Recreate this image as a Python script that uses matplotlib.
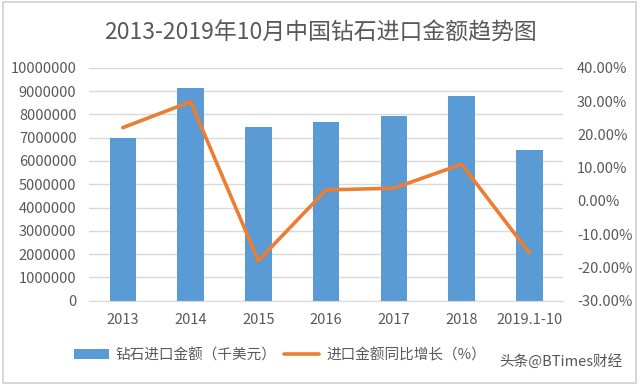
import matplotlib
matplotlib.use("Agg")
from matplotlib import pyplot as plt
from matplotlib.patches import Rectangle
from matplotlib.ticker import FuncFormatter, MultipleLocator

plt.rcParams["font.family"] = ["Noto Sans CJK SC", "DejaVu Sans"]

years = ["2013", "2014", "2015", "2016", "2017", "2018", "2019.1-10"]
import_amount = [6980000, 9120000, 7450000, 7670000, 7930000, 8780000, 6470000]
growth_pct = [22.0, 29.8, -18.0, 3.3, 3.8, 11.0, -15.6]

title = "2013-2019年10月中国钻石进口金额趋势图"
bar_label = "钻石进口金额（千美元）"
line_label = "进口金额同比增长（%）"

text_color = "#595959"

fig = plt.figure(figsize=(6.4, 3.85), dpi=100)
ax = fig.add_axes([0.139, 0.219, 0.741, 0.605])
ax2 = ax.twinx()

x = range(len(years))
ax.bar(x, import_amount, width=0.39, color="#5B9BD5", zorder=2, label=bar_label)
ax2.plot(x, growth_pct, color="#ED7D31", linewidth=2.6, zorder=3,
         solid_capstyle="round", solid_joinstyle="round", label=line_label)

ax.set_xlim(-0.5, len(years) - 0.5)
ax.set_ylim(0, 10000000)
ax.yaxis.set_major_locator(MultipleLocator(1000000))
ax.yaxis.set_major_formatter(FuncFormatter(lambda v, _: f"{int(v)}"))
ax2.set_ylim(-30, 40)
ax2.yaxis.set_major_locator(MultipleLocator(10))
ax2.yaxis.set_major_formatter(FuncFormatter(lambda v, _: f"{v:.2f}%"))

ax.grid(axis="y", color="#d9d9d9", linewidth=1.0, zorder=0)
ax.set_axisbelow(True)
for a in (ax, ax2):
    for side in ("top", "left", "right"):
        a.spines[side].set_visible(False)
    a.spines["bottom"].set_color("#d9d9d9")
    a.tick_params(length=0, colors=text_color, labelsize=10.5)
ax2.spines["bottom"].set_visible(False)
ax.set_xticks(list(x))
ax.set_xticklabels(years)
ax.tick_params(axis="x", pad=9)
ax.tick_params(axis="y", pad=9)
ax2.tick_params(axis="y", pad=10)

fig.text(0.5, 0.914, title, ha="center", va="center", fontsize=16.5, color=text_color)

handles = [ax.patches[0], ax2.lines[0]]
fig.legend(handles, [bar_label, line_label], loc="center left",
           bbox_to_anchor=(0.115, 0.078), ncol=2, frameon=False, fontsize=10.5,
           labelcolor=text_color, handlelength=2.4, handletextpad=0.5,
           columnspacing=0.5, borderaxespad=0, borderpad=0)

fig.text(0.972, 0.062, "头条@BTimes财经", ha="right", va="center", fontsize=10.5,
         color="#555555")

fig.add_artist(Rectangle((0.004, 0.006), 0.99, 0.988, transform=fig.transFigure,
                         fill=False, edgecolor="#d0d0d0", linewidth=1.2))

fig.savefig("out.png", dpi=100, facecolor="white")
plt.close(fig)
